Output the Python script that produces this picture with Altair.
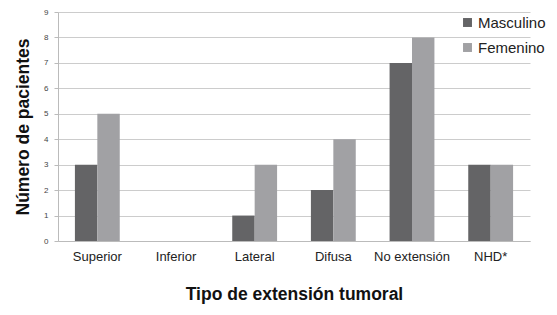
import altair as alt
import pandas as pd

categorias = ["Superior", "Inferior", "Lateral", "Difusa", "No extensión", "NHD*"]
masculino = [3, 0, 1, 2, 7, 3]
femenino = [5, 0, 3, 4, 8, 3]
series = ["Masculino", "Femenino"]

rows = []
for c, m, f in zip(categorias, masculino, femenino):
    rows.append({"cat": c, "sexo": "Masculino", "n": m})
    rows.append({"cat": c, "sexo": "Femenino", "n": f})
df = pd.DataFrame(rows)

FONT = "Liberation Sans"

chart = alt.Chart(df).mark_bar().encode(
    x=alt.X("cat:N", sort=categorias,
            scale=alt.Scale(paddingInner=0.43, paddingOuter=0.215),
            axis=alt.Axis(title="Tipo de extensión tumoral", labelAngle=0,
                          labelFontSize=13, labelColor="#222222", labelPadding=9,
                          ticks=False, domainColor="#bbbbbb",
                          titleFontSize=17.5, titleFontWeight="bold", titleColor="#111111",
                          titlePadding=22, grid=False)),
    xOffset=alt.XOffset("sexo:N", sort=series),
    y=alt.Y("n:Q", scale=alt.Scale(domain=[0, 9], nice=False),
            axis=alt.Axis(title="Número de pacientes", values=list(range(10)),
                          labelFontSize=8, labelColor="#444444", labelPadding=6,
                          tickSize=4, tickColor="#bbbbbb", domainColor="#bbbbbb",
                          gridColor="#cccccc", titleFontSize=17.5, titleFontWeight="bold",
                          titleColor="#111111", titlePadding=11)),
    color=alt.Color("sexo:N", sort=series,
                    scale=alt.Scale(domain=series, range=["#646466", "#a1a1a4"]),
                    legend=alt.Legend(title=None, orient="none", legendX=402, legendY=3,
                                      symbolType="square", symbolSize=80,
                                      symbolStrokeWidth=0, labelFontSize=15,
                                      labelColor="#222222", rowPadding=9,
                                      labelOffset=3, labelLimit=200)),
).properties(
    width=472, height=229,
    autosize=alt.AutoSizeParams(type="none"),
    padding={"left": 50, "top": 4, "right": 19, "bottom": 66},
).configure(font=FONT).configure_view(stroke=None)

chart.save("out.html", embed_options={"renderer": "svg", "actions": False})
